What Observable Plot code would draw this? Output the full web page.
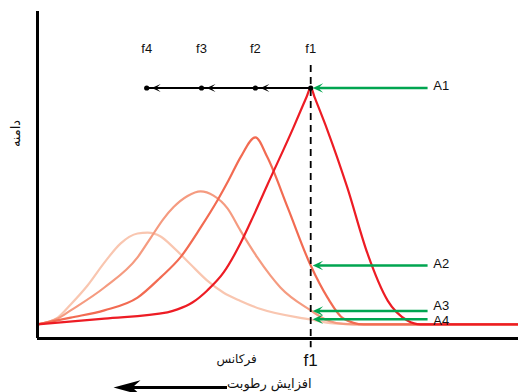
<!DOCTYPE html>
<html>
<head>
<meta charset="utf-8">
<script src="https://cdn.jsdelivr.net/npm/d3@7"></script>
<script src="https://cdn.jsdelivr.net/npm/@observablehq/plot@0.6"></script>
<style>
  html, body { margin: 0; padding: 0; background: #fff; }
  svg { display: block; }
</style>
</head>
<body>
<div id="chart"></div>
<script>
// ---- data ----
const freqLabels = ["f4", "f3", "f2", "f1"];
const freqPos = [2.27, 3.41, 4.53, 5.68];
const ampLabels = ["A1", "A2", "A3", "A4"];
const ampValues = [7.66, 2.23, 0.84, 0.59];
const chainLevel = 7.66;

const curveF1 = [[0,0.43],[1.39,0.61],[2.70,0.80],[2.91,0.89],[3.22,1.10],[3.53,1.47],[3.87,2.02],[4.22,2.91],[4.49,3.75],[4.78,4.70],[5.32,6.45],[5.60,7.41],[5.68,7.68],[5.76,7.38],[6.03,6.36],[6.44,4.62],[6.86,2.60],[7.28,1.16],[7.69,0.55],[7.96,0.43],[10,0.43]];
const curveF2 = [[0,0.43],[0.69,0.64],[1.39,0.86],[2.08,1.25],[2.56,1.87],[2.97,2.48],[3.39,3.39],[3.74,4.22],[3.97,4.83],[4.22,5.54],[4.53,6.15],[4.78,5.54],[5.20,4.01],[5.68,2.23],[6.03,1.25],[6.36,0.61],[6.78,0.43],[10,0.43]];
const curveF3 = [[0,0.43],[0.42,0.61],[0.69,0.86],[1.39,1.56],[2.08,2.48],[2.35,3.07],[2.62,3.66],[2.83,4.02],[3.12,4.36],[3.39,4.50],[3.66,4.37],[3.95,3.98],[4.22,3.30],[4.57,2.48],[4.84,1.93],[5.05,1.56],[5.68,0.86],[6.03,0.55],[6.36,0.45],[6.8,0.43],[10,0.43]];
const curveF4 = [[0,0.43],[0.42,0.64],[0.69,1.04],[1.04,1.62],[1.39,2.32],[1.73,2.91],[2.08,3.21],[2.29,3.24],[2.56,3.12],[2.83,2.78],[3.18,2.27],[3.53,1.77],[3.87,1.40],[4.22,1.15],[4.64,0.90],[5.68,0.58],[6.15,0.46],[6.72,0.43],[10,0.43]];

const xAxisLabel = "فرکانس";
const yAxisLabel = "دامنه";
const moistureLabel = "افزایش رطوبت";
const moistureArrow = [3.95, 1.58]; // from, to (frequency units)

// ---- styles ----
const colors = ["#ed1c24", "#f26b52", "#f59b80", "#f9c6b0"];
const green = "#00a550";
const persian = "'DejaVu Sans', sans-serif";

// left-pointing filled arrowhead, tip at the anchor
function arrowHead(widthRatio, notch) {
  return {
    draw(ctx, size) {
      const r = Math.sqrt(size / Math.PI);
      const w = r * widthRatio;
      ctx.moveTo(0, 0);
      ctx.lineTo(r, -w);
      ctx.lineTo(r * notch, 0);
      ctx.lineTo(r, w);
      ctx.closePath();
    }
  };
}
const headSmall = arrowHead(0.45, 0.55);
const headBig = arrowHead(0.27, 0.7);

const lineOpts = (c) => ({ x: d => d[0], y: d => d[1], stroke: c, strokeWidth: 2.2, curve: "monotone-x" });

const chart = Plot.plot({
  width: 518,
  height: 392,
  marginLeft: 37,
  marginRight: 0,
  marginTop: 11,
  marginBottom: 54,
  style: { fontFamily: "'Liberation Sans', Arial, sans-serif", fontSize: "13px", background: "#fff", overflow: "visible" },
  x: { domain: [0, 10], axis: null },
  y: { domain: [0, 10], axis: null },
  marks: [
    // curves (lightest first)
    Plot.line(curveF4, lineOpts(colors[3])),
    Plot.line(curveF3, lineOpts(colors[2])),
    Plot.line(curveF2, lineOpts(colors[1])),
    Plot.line(curveF1, lineOpts(colors[0])),

    // dashed f1 line
    Plot.ruleX([freqPos[3]], { y1: 8.35, y2: -0.28, stroke: "#000", strokeWidth: 1.8, strokeDasharray: "7,5" }),

    // axes
    Plot.ruleX([0], { y1: 0, y2: 10, stroke: "#000", strokeWidth: 3 }),
    Plot.ruleY([0], { x1: 0, x2: 10, stroke: "#000", strokeWidth: 3 }),

    // chain of frequency arrows
    Plot.ruleY([chainLevel], { x1: freqPos[0], x2: freqPos[3], stroke: "#000", strokeWidth: 2 }),
    Plot.dot(freqPos.slice(0, 3), { x: d => d, y: chainLevel, symbol: arrowHead(0.45, 0.5), r: 9, dx: 5, fill: "#000", stroke: "none" }),
    Plot.dot(freqPos, { x: d => d, y: chainLevel, r: 2.6, fill: "#000", stroke: "none" }),
    Plot.text(freqLabels, { x: (d, i) => freqPos[i], y: 8.87, text: d => d, fontSize: 13, fill: "#111" }),

    // green amplitude arrows
    Plot.ruleY(ampValues, { x1: freqPos[3] + 0.15, x2: 8.12, stroke: green, strokeWidth: 2.5 }),
    Plot.dot(ampValues, { x: freqPos[3], y: d => d, dx: 2, symbol: headSmall, r: 10.5, fill: green, stroke: "none" }),
    Plot.text(ampLabels.slice(0, 2), { x: 8.23, y: (d, i) => ampValues[i], text: d => d, textAnchor: "start", dy: -2, fontSize: 13, fill: "#111" }),
    Plot.text(ampLabels.slice(2, 3), { x: 8.23, y: ampValues[2], text: d => d, textAnchor: "start", dy: -5, fontSize: 13, fill: "#111" }),
    Plot.text(ampLabels.slice(3), { x: 8.23, y: ampValues[3], text: d => d, textAnchor: "start", dy: 2, fontSize: 13, fill: "#111" }),

    // bottom labels
    Plot.text(["f1"], { x: freqPos[3], y: -0.66, text: d => d, fontSize: 17, fill: "#111" }),
    Plot.text([xAxisLabel], { x: 4.14, y: -0.62, text: d => d, fontFamily: persian, fontSize: 12, fill: "#111" }),
    Plot.text([moistureLabel], { x: 4.82, y: -1.40, text: d => d, fontFamily: persian, fontSize: 13, fill: "#111" }),
    Plot.ruleY([-1.50], { x1: moistureArrow[0], x2: moistureArrow[1] + 0.3, stroke: "#000", strokeWidth: 3 }),
    Plot.dot([-1.50], { x: moistureArrow[1], y: d => d, symbol: headBig, r: 27, fill: "#000", stroke: "none" }),

    // y label
    Plot.text([yAxisLabel], { x: -0.457, y: 6.27, text: d => d, rotate: -90, fontFamily: persian, fontSize: 13, fill: "#111" })
  ]
});
document.getElementById("chart").append(chart);
</script>
</body>
</html>
